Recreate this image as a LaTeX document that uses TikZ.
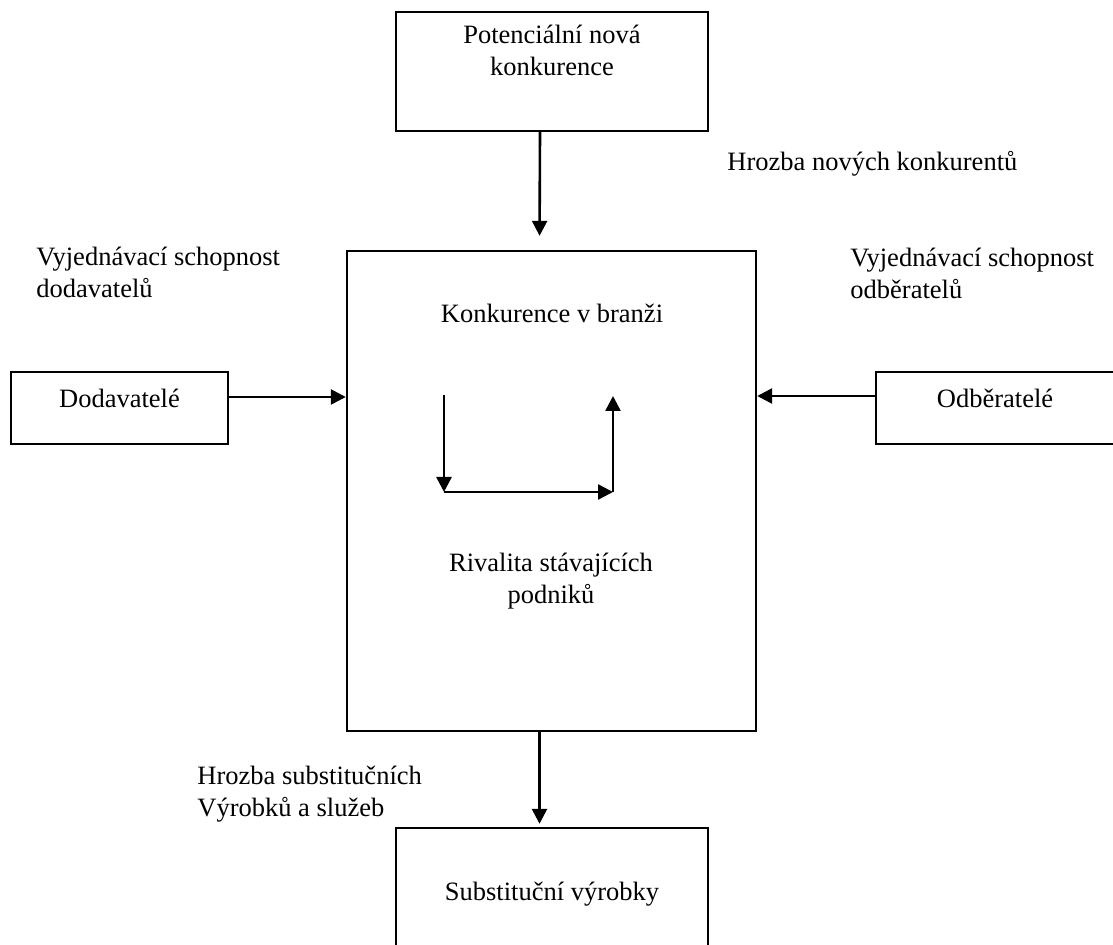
\documentclass[tikz,border=0pt]{standalone}
\usepackage{fontspec}
\setmainfont{Liberation Serif}
\usepackage{tikz}
\usetikzlibrary{arrows.meta,positioning}
\newcommand{\diafont}{\fontsize{13.25pt}{16pt}\selectfont}
\tikzset{
  frame/.style={rectangle, draw=black, line width=1.2pt, inner sep=0pt, font=\diafont},
  note/.style={inner sep=0pt, font=\diafont},
  arrow/.style={-{Triangle[length=7.5pt,width=7.5pt]}, line width=1.3pt}
}
\begin{document}
\begin{tikzpicture}[x=0.5pt, y=-0.5pt]
  \useasboundingbox (0,0) rectangle (1113,945);

  \node[frame, minimum width=156pt, minimum height=59.5pt] (pot) at (552,71.5) {};
  \node[note, align=center] (potlbl) at (552,50.5) {Potenciální nová\\konkurence};
  \node[frame, minimum width=204.5pt, minimum height=240pt] (core) at (551.5,491) {};
  \node[note, anchor=base] (branch) at (552,323) {Konkurence v branži};
  \node[note, align=center] (rival) at (551,581) {Rivalita stávajících\\podniků};
  \node[frame, minimum width=108.5pt, minimum height=36pt, text height=8pt, text depth=8pt] (dod) at (119.5,408) {Dodavatelé};
  \node[frame, minimum width=119pt, minimum height=36pt, text height=8pt, text depth=8pt] (odb) at (995,408) {Odběratelé};
  \node[frame, minimum width=156pt, minimum height=66pt, text height=9pt, text depth=3pt] (sub) at (552,894) {Substituční výrobky};

  \node[note, anchor=base west] (newthreat) at (727,171) {Hrozba nových konkurentů};
  \node[note, align=left, anchor=west] (supppow) at (36,272) {Vyjednávací schopnost\\dodavatelů};
  \node[note, align=left, anchor=west] (buypow) at (850,273) {Vyjednávací schopnost\\odběratelů};
  \node[note, align=left, anchor=west] (substhreat) at (197,794) {Hrozba substitučních\\Výrobků a služeb};

  \coordinate (r1) at (444,395);
  \coordinate (r2) at (444,492);
  \coordinate (r3) at (613,492);
  \coordinate (r4) at (613,396);

  \draw[arrow, shorten >=7pt] ([xshift=-6pt]pot.south) -- ([xshift=-6pt]core.north);
  \draw[arrow] ([yshift=5.5pt]dod.east) -- ([yshift=5.5pt]dod.east -| core.west);
  \draw[arrow] ([yshift=6pt]odb.west) -- ([yshift=6pt]odb.west -| core.east);
  \draw[arrow, shorten >=1.5pt] ([xshift=-6pt]core.south) -- ([xshift=-6pt]core.south |- sub.north);
  \draw[arrow] (r1) -- (r2);
  \draw[arrow] (r2) -- (r3);
  \draw[arrow] (r3) -- (r4);
\end{tikzpicture}
\end{document}
